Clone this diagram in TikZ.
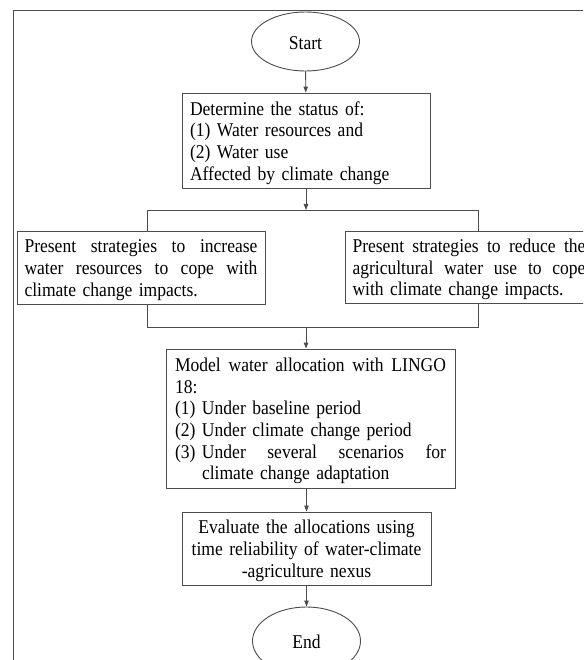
\documentclass[tikz,border=0pt]{standalone}
\usepackage{fontspec}
\setmainfont{Liberation Serif}[FakeStretch=0.9]
\usetikzlibrary{shapes.geometric,arrows.meta}

\newcommand{\numlab}[1]{\makebox[27pt][l]{#1}}
\newcommand{\spreadline}[2]{\leavevmode\hbox to #1{#2}}

\begin{document}
\begin{tikzpicture}[x=1pt,y=-1pt,
	every node/.style={font=\fontsize{19.5}{21.7}\selectfont},
	terminal/.style={draw=black!70, line width=0.9pt, ellipse, minimum width=108pt, inner sep=0pt, text height=16pt},
	stepbox/.style={draw=black!70, line width=0.9pt, rectangle, inner xsep=8pt, inner ysep=0pt, align=left,
		execute at begin node={\rule{0pt}{18.5pt}}},
	link/.style={draw=black!70, line width=0.9pt},
	arr/.style={link, -{Triangle[length=6pt,width=4.5pt]}}]
		\useasboundingbox (0,0) rectangle (583,660);
		\fill[white] (0,0) rectangle (583,660);
		\clip (0,0) rectangle (583,660);
		\draw[link] (13,10) rectangle (640,720);

		\node[terminal, minimum height=59pt] (start) at (305.5,41.5) {Start};
		\node[stepbox, text width=232pt, minimum height=95pt] (status) at (306,140.5)
			{Determine the status of:\\ \numlab{(1)}Water resources and\\ \numlab{(2)}Water use\\ Affected by climate change};

		\node[stepbox, inner xsep=7.5pt, text width=233pt, minimum height=73pt] (increase) at (141,267.5)
			{\spreadline{233pt}{Present\hfil strategies\hfil to\hfil increase}\\ \spreadline{233pt}{water\hfil resources\hfil to\hfil cope\hfil with}\\ climate change impacts.};
		\node[stepbox, inner xsep=7.5pt, text width=233pt, minimum height=72pt] (reduce) at (469,267)
			{\spreadline{233pt}{Present\hfil strategies\hfil to\hfil reduce\hfil the}\\ \spreadline{233pt}{agricultural\hfil water\hfil use\hfil to\hfil cope}\\ with climate change impacts.};

		\node[stepbox, inner xsep=9pt, text width=271pt, minimum height=139pt] (model) at (310.5,418.5)
			{\spreadline{271pt}{Model\hfil water\hfil allocation\hfil with\hfil LINGO}\\ 18:\\ \numlab{(1)}Under baseline period\\ \numlab{(2)}Under climate change period\\
			\numlab{(3)}\spreadline{244pt}{Under\hfil several\hfil scenarios\hfil for}\\ \hspace*{27pt}climate change adaptation};
		\node[stepbox, inner xsep=3pt, text width=243pt, minimum height=73pt, align=center] (evaluate) at (306.5,548.5)
			{Evaluate the allocations using\\ time reliability of water-climate\\ -agriculture nexus};
		\node[terminal, minimum height=68pt] (end) at (306.5,641) {End};

		% branches
		\coordinate (split) at (306,210);
		\coordinate (splitL) at (147,210);
		\coordinate (splitR) at (478,210);
		\coordinate (join) at (306,327);
		\coordinate (joinL) at (147,327);
		\coordinate (joinR) at (478,327);

		\draw[arr] (start) -- (status);
		\draw[arr] (status.south -| split) -- (split);
		\draw[link] (increase.north -| splitL) -- (splitL) -- (splitR) -- (reduce.north -| splitR);
		\draw[link] (increase.south -| joinL) -- (joinL) -- (joinR) -- (reduce.south -| joinR);
		\draw[arr] (join) -- (model.north -| join);
		\draw[arr] (model.south -| evaluate) -- (evaluate);
		\draw[arr] (evaluate) -- (end);
\end{tikzpicture}
\end{document}
